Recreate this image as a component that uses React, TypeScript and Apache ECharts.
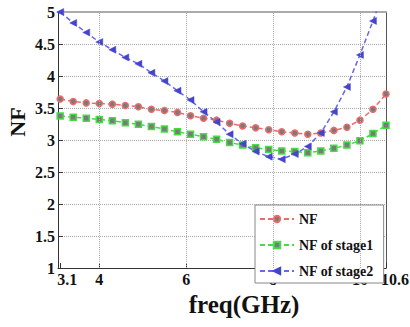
import React, { useEffect, useRef } from 'react';
import * as echarts from 'echarts';

const freq = [3.1, 3.4, 3.7, 4.0, 4.3, 4.6, 4.9, 5.2, 5.5, 5.8, 6.1, 6.4, 6.7, 7.0, 7.3, 7.6, 7.9, 8.2, 8.5, 8.8, 9.1, 9.4, 9.7, 10.0, 10.3, 10.6];
const nf = [3.64, 3.6, 3.58, 3.57, 3.56, 3.54, 3.52, 3.48, 3.46, 3.43, 3.38, 3.34, 3.31, 3.26, 3.22, 3.19, 3.16, 3.13, 3.11, 3.09, 3.11, 3.15, 3.2, 3.31, 3.48, 3.72];
const nfStage1 = [3.375, 3.355, 3.34, 3.32, 3.3, 3.27, 3.245, 3.21, 3.17, 3.13, 3.09, 3.05, 3.01, 2.96, 2.92, 2.88, 2.85, 2.83, 2.82, 2.8, 2.83, 2.87, 2.92, 2.99, 3.1, 3.23];
const nfStage2 = [5.0, 4.83, 4.68, 4.53, 4.41, 4.29, 4.19, 4.05, 3.92, 3.77, 3.625, 3.44, 3.28, 3.09, 2.94, 2.82, 2.74, 2.7, 2.78, 2.9, 3.11, 3.44, 3.83, 4.33, 4.86, 5.42];
const xTickValues = [3.1, 4, 6, 8, 10, 10.6];
const xGridValues = [4, 6, 8, 10];
const seriesNames = ['NF', 'NF of stage1', 'NF of stage2'];
const yLabel = 'NF';
const xLabel = 'freq(GHz)';

const FONT = "'Liberation Serif', 'Times New Roman', serif";

export default function App() {
  const ref = useRef<HTMLDivElement>(null);
  useEffect(() => {
    if (!ref.current) return;
    const chart = echarts.init(ref.current, undefined, { renderer: 'svg' });
    const dash = [5, 3];
    const lbl = { fontFamily: FONT, fontWeight: 'bold', fontSize: 16, color: '#111' };
    const first = xTickValues[0];
    const last = xTickValues[xTickValues.length - 1];
    const axisLabelValues = xTickValues.filter((v) => v !== last && v !== first);
    chart.setOption({
      animation: false,
      backgroundColor: '#ffffff',
      grid: { left: 58, right: 24, top: 12, bottom: 59, containLabel: false },
      legend: {
        orient: 'vertical',
        left: 255,
        top: 205,
        padding: [7, 10, 5, 4],
        itemGap: 12,
        itemWidth: 34,
        itemHeight: 8,
        backgroundColor: '#ffffff',
        borderColor: '#888888',
        borderWidth: 1,
        borderRadius: 0,
        textStyle: { fontFamily: FONT, fontWeight: 'bold', fontSize: 14, color: '#111' },
        data: seriesNames,
      },
      xAxis: [
        {
          type: 'value',
          min: 3.05,
          max: 10.6,
          axisLine: { show: true, lineStyle: { color: '#333', width: 1 } },
          axisTick: { show: true, inside: true, length: 5, customValues: xTickValues, lineStyle: { color: '#333' } },
          splitLine: { show: false },
          axisLabel: { customValues: axisLabelValues, margin: 3, ...lbl },
        },
        {
          type: 'value',
          position: 'top',
          min: 3.05,
          max: 10.6,
          axisLine: { show: true, lineStyle: { color: '#aaaaaa', width: 2 } },
          axisTick: { show: false },
          axisLabel: { show: false },
          splitLine: { show: false },
        },
      ],
      yAxis: [
        {
          type: 'value',
          min: 1,
          max: 5,
          interval: 0.5,
          axisLine: { show: true, lineStyle: { color: '#333', width: 1 } },
          axisTick: { show: true, inside: true, length: 5, lineStyle: { color: '#333' } },
          splitLine: { show: true, lineStyle: { color: '#aaaaaa', type: 'dotted', width: 1 } },
          axisLabel: { margin: 3, ...lbl },
        },
        {
          type: 'value',
          position: 'right',
          min: 1,
          max: 5,
          interval: 0.5,
          axisLine: { show: true, lineStyle: { color: '#555', width: 1 } },
          axisTick: { show: false },
          axisLabel: { show: false },
          splitLine: { show: false },
        },
      ],
      series: [
        {
          name: seriesNames[0],
          type: 'line',
          data: freq.map((f, i) => [f, nf[i]]),
          symbol: 'circle',
          symbolSize: 6,
          itemStyle: { color: '#7a7a7a', borderColor: '#ee6a6a', borderWidth: 1.5 },
          lineStyle: { color: '#ee6a6a', type: dash, width: 1.5 },
          markLine: {
            silent: true,
            symbol: 'none',
            label: { show: false },
            lineStyle: { color: '#aaaaaa', type: 'dotted', width: 1 },
            data: xGridValues.map((v) => ({ xAxis: v })),
          },
          z: 3,
        },
        {
          name: seriesNames[1],
          type: 'line',
          data: freq.map((f, i) => [f, nfStage1[i]]),
          symbol: 'rect',
          symbolSize: 6,
          itemStyle: { color: '#7a7a7a', borderColor: '#44dd44', borderWidth: 1.5 },
          lineStyle: { color: '#44dd44', type: dash, width: 1.5 },
          z: 3,
        },
        {
          name: seriesNames[2],
          type: 'line',
          data: freq.map((f, i) => [f, nfStage2[i]]),
          symbol: 'triangle',
          symbolRotate: 90,
          symbolSize: 7,
          itemStyle: { color: '#4444cc', borderColor: '#4444cc', borderWidth: 0.5 },
          lineStyle: { color: '#6666ee', type: dash, width: 1.5 },
          z: 3,
        },
      ],
    });
    const firstPx = chart.convertToPixel({ gridIndex: 0 }, [first, 1]) as number[];
    const lastPx = chart.convertToPixel({ gridIndex: 0 }, [last, 1]) as number[];
    const tickText = { fontFamily: FONT, fontWeight: 'bold', fontSize: 16, fill: '#111', align: 'center', verticalAlign: 'top' };
    chart.setOption({
      graphic: [
        {
          type: 'text',
          x: 17,
          y: 122,
          rotation: Math.PI / 2,
          style: { text: yLabel, fontFamily: FONT, fontWeight: 'bold', fontSize: 22, fill: '#111', align: 'center', verticalAlign: 'middle' },
        },
        {
          type: 'text',
          x: 244,
          y: 304,
          style: { text: xLabel, fontFamily: FONT, fontWeight: 'bold', fontSize: 25, fill: '#111', align: 'center', verticalAlign: 'middle' },
        },
        {
          type: 'text',
          x: firstPx[0] + 7,
          y: firstPx[1] + 3,
          style: { text: String(first), ...tickText },
        },
        {
          type: 'text',
          x: lastPx[0] + 9,
          y: lastPx[1] + 3,
          style: { text: String(last), ...tickText },
        },
      ],
    });
    return () => chart.dispose();
  }, []);
  return <div ref={ref} style={{ position: 'absolute', left: 0, top: 0, width: 410, height: 327 }} />;
}
